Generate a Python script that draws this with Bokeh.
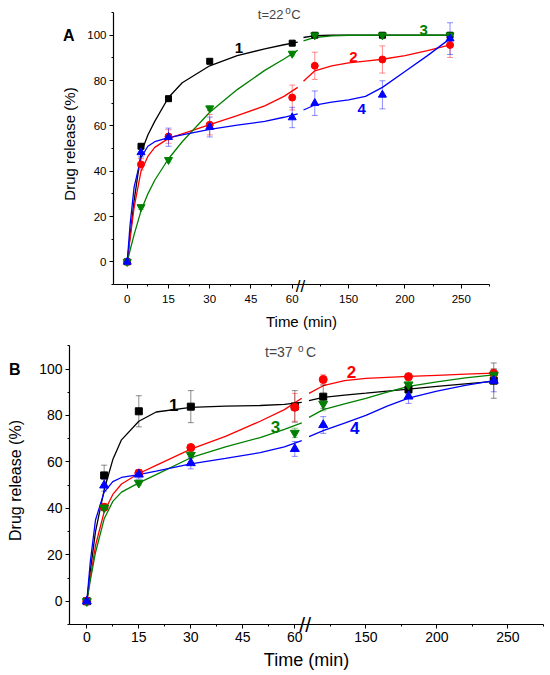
from bokeh.plotting import figure
from bokeh.models import Range1d, FixedTicker, Label, LinearAxis
from bokeh.embed import file_html
from bokeh.resources import INLINE
from bokeh.core.properties import value

# ---------------- data ----------------
times = [0, 5, 15, 30, 60, 120, 180, 240]

# Panel A, t = 22 C
a_s1 = [0, 51, 72, 88.5, 96.5, 100, 100, 100]
a_s2 = [0, 43, 55.3, 60.5, 72.5, 86.5, 89.3, 95.7]
a_s3 = [0, 24.2, 45, 67.8, 91.9, 100, 100, 100]
a_s4 = [0, 48.3, 55, 59.5, 63.7, 70, 73.7, 98.5]
a_e1 = [0, 1, 1, 1, 1, 1, 1, 1]
a_e2 = [0, 2.5, 3, 4.5, 5.5, 6, 6, 5.5]
a_e3 = [0, 1, 1, 1, 1, 0.5, 0.5, 1]
a_e4 = [0, 2, 4, 4.4, 4.5, 5.4, 6.2, 7]

# Panel B, t = 37 C
b_s1 = [0, 54.2, 81.8, 83.8, 83.9, 88.1, 91.2, 95]
b_s2 = [0, 40.5, 55.2, 66.2, 83.5, 95.5, 96.7, 98.1]
b_s3 = [0, 40.3, 51, 63, 72.5, 85, 93.3, 97.5]
b_s4 = [0, 49.9, 54.6, 59.5, 65.6, 75.9, 88.2, 95]
b_e1 = [0, 4.4, 6.7, 6.9, 6.8, 5, 2, 7.6]
b_e2 = [0, 1.5, 1.5, 1, 6, 2, 1.5, 2]
b_e3 = [0, 1, 1, 1.5, 2, 3, 1.5, 2.5]
b_e4 = [0, 2.5, 2, 2.5, 3.2, 3.6, 3, 4.8]

# fitted curves
curve_t_early = [0, 1, 2.5, 5, 7.5, 10, 15, 20, 30, 40, 50, 57, 62]
curve_t_late = [110, 120, 135, 150, 165, 180, 200, 220, 240]

a_c1_early = [0, 11, 27, 48, 56, 62, 72.5, 79, 86.5, 91, 94, 95.8, 97]
a_c2_early = [0, 10, 24, 40, 46.5, 50.5, 54.5, 56.5, 60.5, 64.5, 68.8, 73, 77]
a_c3_early = [0, 5, 12, 22.5, 30, 36, 45.5, 53, 66, 76, 84.5, 89.5, 93.4]
a_c4_early = [0, 16, 33, 46, 51, 53, 54.8, 56, 58.5, 60.3, 62, 63.8, 65.3]
a_c1_late = [99, 99.8, 100, 100, 100, 100, 100, 100, 100]
a_c2_late = [79.7, 84.3, 86.5, 87.8, 88.6, 89.4, 91, 93.2, 95.7]
a_c3_late = [97.5, 99, 99.7, 100, 100, 100, 100, 100, 100]
a_c4_late = [67, 69.2, 70.5, 71.5, 73, 77, 84, 91, 98.5]

b_c1_early = [0, 13, 30, 48, 61, 69.5, 77.5, 81.5, 83.5, 84, 84.3, 84.8, 85.6]
b_c2_early = [0, 10, 24, 38.5, 46, 50.5, 55, 58.5, 65.5, 71, 77.5, 82.5, 87.4]
b_c3_early = [0, 9, 21, 35.5, 43, 47, 51, 54.5, 61.8, 66.5, 70.5, 74, 76.8]
b_c4_early = [0, 17, 35, 47, 51.5, 53.3, 54.5, 56, 59.2, 61.5, 64, 66.5, 69.2]
b_c1_late = [86.4, 87.8, 88.8, 89.6, 90.5, 91.3, 92.5, 93.6, 94.7]
b_c2_late = [89.5, 92.8, 95, 96, 96.4, 96.8, 97.3, 97.8, 98.2]
b_c3_late = [79.2, 82.5, 85, 87.4, 90, 92.5, 94.5, 96.2, 97.5]
b_c4_late = [70.9, 73.5, 76.7, 80, 84, 87.5, 90.5, 93, 95]

early_ticks = [0, 15, 30, 45, 60]
early_minor = [7.5, 22.5, 37.5, 52.5]
late_ticks = [150, 200, 250]
late_minor = [125, 175, 225, 275]
y_ticks = [0, 20, 40, 60, 80, 100]
y_minor = [-10, 10, 30, 50, 70, 90, 110]

series_labels = ["1", "2", "3", "4"]
colors = ["#000000", "#ff0000", "#008000", "#0000ff"]
markers = ["square", "circle", "inverted_triangle", "triangle"]

# ------------- broken axis layout -------------
X_START, X_END = -5, 131.75
Y_START, Y_AXIS_END, Y_END = -10, 110, 114
U150, K2 = 80.5, 0.41          # screen-unit position of t=150 and compression of the late part
BREAK_U = 63
FONT = "Liberation Sans"


def late_u(t):
    return U150 + (t - 150) * K2


def style_axis(ax, cfg):
    ax.axis_line_width = 1.2
    ax.axis_line_color = "black"
    ax.major_tick_line_color = "black"
    ax.minor_tick_line_color = "black"
    ax.major_tick_in = 0
    ax.minor_tick_in = 0
    ax.major_tick_out = cfg["tick"]
    ax.minor_tick_out = cfg["mtick"]
    ax.major_label_text_font = FONT
    ax.major_label_text_font_size = cfg["tickfs"]
    ax.major_label_text_color = "black"
    ax.axis_label_text_font = FONT
    ax.axis_label_text_font_style = "normal"
    ax.axis_label_text_color = "black"


def bare_axis(ax):
    ax.axis_line_color = None
    ax.major_tick_line_color = None
    ax.minor_tick_line_color = None
    ax.major_tick_out = 0
    ax.minor_tick_out = 0
    ax.major_tick_in = 0
    ax.minor_tick_in = 0
    ax.major_label_text_font = FONT
    ax.major_label_text_color = "black"
    ax.axis_label_text_font = FONT
    ax.axis_label_text_font_style = "normal"
    ax.axis_label_text_color = "black"


def make_panel(h, bl, br, bt, bb, ser, errs, c_early, c_late, cfg):
    p = figure(width=550, height=h, output_backend="svg", toolbar_location=None,
               x_range=Range1d(X_START, X_END), y_range=Range1d(Y_START, Y_END),
               min_border_left=bl, min_border_right=br, min_border_top=bt,
               min_border_bottom=bb, x_axis_type=None, y_axis_type=None)
    p.extra_x_ranges = {"late": Range1d(150 + (X_START - U150) / K2,
                                        150 + (X_END - U150) / K2)}
    p.outline_line_color = None
    p.xgrid.visible = False
    p.ygrid.visible = False
    p.background_fill_color = "white"
    p.border_fill_color = "white"

    # x axis (broken: early minutes, then compressed late part)
    xa = LinearAxis()
    maj = early_ticks + [late_u(t) for t in late_ticks]
    mnr = early_minor + [late_u(t) for t in late_minor]
    xa.ticker = FixedTicker(ticks=maj, minor_ticks=mnr)
    xa.major_label_overrides = {late_u(t): str(t) for t in late_ticks}
    style_axis(xa, cfg)
    xa.axis_label = "Time (min)"
    xa.axis_label_text_font_size = cfg["xlabfs"]
    xa.major_label_standoff = cfg["xstand"]
    xa.axis_label_standoff = cfg["xlstand"]
    p.add_layout(xa, "below")
    # break mark "//" on the x axis line
    xb = LinearAxis()
    bare_axis(xb)
    xb.ticker = FixedTicker(ticks=[BREAK_U], minor_ticks=[])
    xb.major_label_overrides = {BREAK_U: "//"}
    xb.major_label_text_font_size = cfg["brkfs"]
    xb.major_label_standoff = cfg["brkstand"]
    p.add_layout(xb, "below")

    # y axis: numbers
    ya = LinearAxis(bounds=(Y_START, Y_AXIS_END))
    ya.ticker = FixedTicker(ticks=y_ticks, minor_ticks=y_minor)
    style_axis(ya, cfg)
    ya.major_label_standoff = cfg["ystand"]
    p.add_layout(ya, "left")
    # outer y axis: panel letter + axis title
    yl = LinearAxis(bounds=(Y_START, Y_AXIS_END))
    bare_axis(yl)
    yl.ticker = FixedTicker(ticks=[100], minor_ticks=[])
    yl.major_label_overrides = {100: cfg["letter"]}
    yl.major_label_text_font_style = "bold"
    yl.major_label_text_font_size = "16px"
    yl.major_label_standoff = cfg["letterstand"]
    yl.axis_label = "Drug release (%)"
    yl.axis_label_text_font_size = cfg["ylabfs"]
    yl.axis_label_standoff = cfg["ylstand"]
    p.add_layout(yl, "left")

    early_idx = [i for i, t in enumerate(times) if t < 100]
    late_idx = [i for i, t in enumerate(times) if t > 100]

    # curves
    for k in range(4):
        p.line(curve_t_early, c_early[k], line_color=colors[k], line_width=1.3)
        p.line(curve_t_late, c_late[k], line_color=colors[k], line_width=1.3,
               x_range_name="late")
    # error bars
    for k in range(4):
        for idx, rn in ((early_idx, "default"), (late_idx, "late")):
            xs = [times[i] for i in idx]
            lo = [ser[k][i] - errs[k][i] for i in idx]
            hi = [ser[k][i] + errs[k][i] for i in idx]
            p.segment(xs, lo, xs, hi, line_color=colors[k], line_alpha=0.45,
                      line_width=1, x_range_name=rn)
            p.scatter(xs + xs, lo + hi, marker="dash", size=6, line_color=colors[k],
                      line_alpha=0.45, line_width=1, x_range_name=rn)
    # markers
    for k in range(4):
        for idx, rn in ((early_idx, "default"), (late_idx, "late")):
            xs = [times[i] for i in idx]
            ys = [ser[k][i] for i in idx]
            p.scatter(xs, ys, marker=markers[k], size=cfg["msize"][k],
                      fill_color=colors[k], line_color=colors[k], x_range_name=rn)

    # curve numbers
    for k in range(4):
        lx, ly, rn = cfg["numpos"][k]
        p.text([lx], [ly], text=[series_labels[k]], text_color=colors[k],
               text_font=value(FONT), text_font_style="bold",
               text_font_size=cfg["numfs"], text_align="center",
               text_baseline="middle", x_range_name=rn)

    # temperature title  t=.. oC
    tx, ty = cfg["title_pos"]
    p.add_layout(Label(x=tx, y=ty, text=cfg["title"], text_font=FONT,
                       text_font_size=cfg["titlefs"], text_align="left",
                       text_baseline="middle"))
    p.add_layout(Label(x=tx, y=ty, x_offset=cfg["o_off"], y_offset=4, text="o",
                       text_font=FONT, text_font_size="10px", text_align="left",
                       text_baseline="middle"))
    p.add_layout(Label(x=tx, y=ty, x_offset=cfg["c_off"], text="C",
                       text_font=FONT, text_font_size=cfg["titlefs"],
                       text_align="left", text_baseline="middle"))
    return p


cfg_a = dict(tick=4, mtick=2, tickfs="11.5px", xlabfs="15px", ylabfs="15px",
             xstand=6, xlstand=7, ystand=3, ylstand=-18, letterstand=10,
             msize=[6, 7, 8, 8], numfs="15px",
             numpos=[(40.6, 94.3, "default"), (154.4, 90.2, "late"),
                     (216.6, 102.2, "late"), (161.7, 67.4, "late")],
             letter="A", title="t=22", titlefs="13px",
             title_pos=(47.5, 109.15), o_off=27.5, c_off=33.5,
             brkfs="17px", brkstand=-56)
cfg_b = dict(tick=4, mtick=2, tickfs="14px", xlabfs="18px", ylabfs="16px",
             xstand=3, xlstand=5, ystand=3, ylstand=-18, letterstand=16,
             msize=[7, 8, 9, 9], numfs="17px",
             numpos=[(25.1, 84.7, "default"), (139.8, 98.8, "late"),
                     (54.4, 75.2, "default"), (142.2, 74.6, "late")],
             letter="B", title="t=37", titlefs="14px",
             title_pos=(51.4, 107.2), o_off=33, c_off=41,
             brkfs="21px", brkstand=-60)

pa = make_panel(335, 113, 61, 3, 51,
                [a_s1, a_s2, a_s3, a_s4], [a_e1, a_e2, a_e3, a_e4],
                [a_c1_early, a_c2_early, a_c3_early, a_c4_early],
                [a_c1_late, a_c2_late, a_c3_late, a_c4_late], cfg_a)
pb = make_panel(340, 69, 7, 1, 51,
                [b_s1, b_s2, b_s3, b_s4], [b_e1, b_e2, b_e3, b_e4],
                [b_c1_early, b_c2_early, b_c3_early, b_c4_early],
                [b_c1_late, b_c2_late, b_c3_late, b_c4_late], cfg_b)

open("out.html", "w").write(file_html([pa, pb], INLINE))
